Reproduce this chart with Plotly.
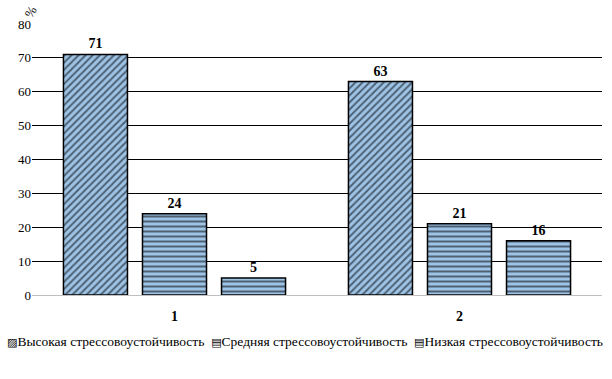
import plotly.graph_objects as go

categories = ["1", "2"]
series_names = ["Высокая стрессовоустойчивость", "Средняя стрессовоустойчивость", "Низкая стрессовоустойчивость"]
high = [71, 63]
mid = [24, 21]
low = [5, 16]
y_ticks = [0, 10, 20, 30, 40, 50, 60, 70, 80]

FONT = "Liberation Serif, Times New Roman, serif"
fill = "#9DC3E6"
shapes = ["/", "-", "-"]
legend_glyphs = ["▨", "▤", "▤"]

fig = go.Figure()
for name, vals, shp in zip(series_names, [high, mid, low], shapes):
    fig.add_trace(go.Bar(
        x=categories, y=vals, name=name, showlegend=False,
        text=[str(v) for v in vals], textposition="outside",
        textfont=dict(family=FONT, size=14, color="black", weight="bold"),
        cliponaxis=False,
        marker=dict(color=fill, line=dict(color="black", width=1.5),
                    pattern=dict(shape=shp, fgcolor="black", bgcolor=fill, size=5, solidity=0.4)),
    ))

legend_text = "  ".join(
    f"<span style='font-family:DejaVu Sans;font-size:11px'>{g}</span>{n}"
    for g, n in zip(legend_glyphs, series_names))

fig.update_layout(
    width=612, height=379,
    margin=dict(l=32, r=10, t=24, b=84, autoexpand=False),
    barmode="group", bargap=0.168, bargroupgap=0.19,
    plot_bgcolor="white", paper_bgcolor="white",
    font=dict(family=FONT, size=13, color="black"),
    showlegend=False,
    yaxis=dict(range=[0, 80], tickvals=y_ticks, showgrid=True, gridcolor="black", gridwidth=1,
               zeroline=False, showline=False, ticks="", automargin=False,
               tickfont=dict(family=FONT, size=13)),
    xaxis=dict(showline=True, linecolor="#BFBFBF", linewidth=1, ticks="outside", ticklen=8,
               tickcolor="rgba(0,0,0,0)", automargin=False,
               tickfont=dict(family=FONT, size=14, weight="bold")),
    annotations=[
        dict(text="%", xref="paper", yref="paper", x=0.0, y=1.0, xanchor="center",
             yanchor="middle", showarrow=False, textangle=-60, xshift=-2, yshift=12,
             font=dict(family=FONT, size=13)),
        dict(text=legend_text, xref="paper", yref="paper", x=0.479, y=-0.1734,
             xanchor="center", yanchor="middle", showarrow=False,
             font=dict(family=FONT, size=13.5)),
    ],
)
fig.write_html("out.html", config={"displayModeBar": False},
               post_script="document.body.style.margin='0';")
